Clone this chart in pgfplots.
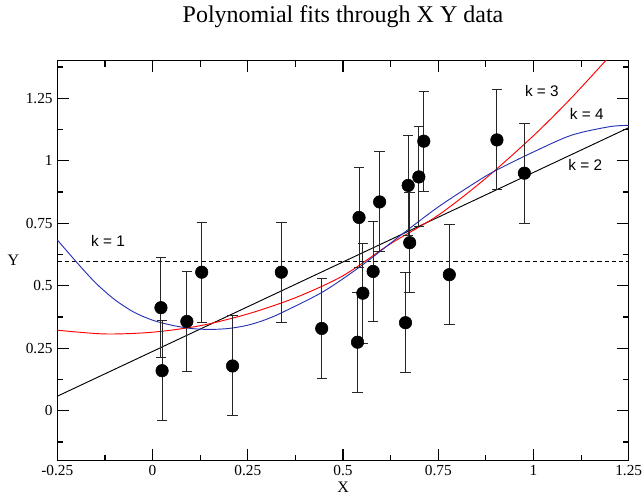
\documentclass[border=0pt]{standalone}
\usepackage{fontspec}
\setmainfont{Liberation Serif}
\newfontfamily\labelsans{Liberation Sans}
\usepackage{pgfplots}
\pgfplotsset{compat=1.18}
\definecolor{fitblue}{RGB}{40,50,180}

\begin{document}
\begin{tikzpicture}
\begin{axis}[
  scale only axis,
  width=428.5pt, height=300pt,
  xmin=-0.25, xmax=1.25, ymin=-0.2, ymax=1.4,
  xtick={-0.25,0,0.25,0.5,0.75,1,1.25},
  xticklabels={\textrm{-0.25},\textrm{0},\textrm{0.25},\textrm{0.5},\textrm{0.75},\textrm{1},\textrm{1.25}},
  ytick={0,0.25,0.5,0.75,1,1.25},
  yticklabels={\textrm{0},\textrm{0.25},\textrm{0.5},\textrm{0.75},\textrm{1},\textrm{1.25}},
  minor xtick={-0.125,0.125,0.375,0.625,0.875,1.125},
  minor ytick={-0.125,0.125,0.375,0.625,0.875,1.125,1.375},
  tick align=inside,
  major tick length=8.75pt, minor tick length=4.5pt,
  tick style={line width=0.9pt, black},
  axis line style={line width=1.1pt},
  ticklabel style={font=\fontsize{11.5}{13}\selectfont},
  title={Polynomial fits through X Y data},
  title style={font=\fontsize{18}{20}\selectfont, at={(0.5,1)}, anchor=base, yshift=22.5pt},
  xlabel={X}, ylabel={Y},
  label style={font=\fontsize{12}{14}\selectfont},
  xlabel style={yshift=2pt},
  ylabel style={rotate=-90, xshift=2pt},
]
% k = 1: mean
\addplot[black, line width=0.7pt, dash pattern=on 3.2pt off 2.2pt] coordinates {(-0.25,0.598) (1.25,0.598)};
% k = 2: straight line
\addplot[black, line width=0.7pt] coordinates {(-0.25,0.058) (1.25,1.132)};
% k = 3
\addplot[red, line width=0.7pt, smooth] coordinates {
(-0.25,0.322) (-0.125,0.307) (0,0.314) (0.125,0.340) (0.25,0.387)
(0.375,0.452) (0.5,0.540) (0.625,0.668) (0.75,0.782) (0.875,0.930)
(1.0,1.100) (1.1,1.252) (1.2,1.418)
};
% k = 4
\addplot[fitblue, line width=0.7pt, smooth] coordinates {
(-0.25,0.683) (-0.2,0.595) (-0.15,0.512) (-0.1,0.445) (-0.05,0.395)
(0,0.362) (0.05,0.342) (0.1,0.329) (0.15,0.325) (0.2,0.329)
(0.25,0.342) (0.3,0.366) (0.35,0.400) (0.45,0.478) (0.55,0.582)
(0.65,0.700) (0.75,0.815) (0.85,0.915) (0.9,0.960) (1.0,1.035)
(1.1,1.102) (1.2,1.136) (1.25,1.141)
};
% data with error bars
\addplot[only marks, mark=*, mark size=4.7pt, black,
  error bars/.cd, y dir=both, y fixed=0.2,
  error bar style={line width=0.75pt, black!85},
  error mark options={rotate=90, mark size=3.9pt, line width=0.75pt, black!85}]
coordinates {
(0.022,0.412) (0.025,0.160) (0.090,0.357) (0.129,0.554) (0.210,0.179)
(0.338,0.554) (0.444,0.329) (0.538,0.274) (0.542,0.773) (0.552,0.470)
(0.579,0.557) (0.596,0.835) (0.664,0.352) (0.671,0.901) (0.675,0.672)
(0.699,0.935) (0.712,1.078) (0.779,0.544) (0.904,1.083) (0.976,0.950)
};
\node[font=\labelsans\fontsize{11.5}{13}\selectfont] at (-0.117,0.68) {k = 1};
\node[font=\labelsans\fontsize{11.5}{13}\selectfont] at (1.022,1.278) {k = 3};
\node[font=\labelsans\fontsize{11.5}{13}\selectfont] at (1.140,1.187) {k = 4};
\node[font=\labelsans\fontsize{11.5}{13}\selectfont] at (1.136,0.984) {k = 2};
\end{axis}
\pgfresetboundingbox
\path ([xshift=-43pt,yshift=-29.5pt]current axis.south west) rectangle ([xshift=10.7pt,yshift=45.5pt]current axis.north east);
\end{tikzpicture}
\end{document}
